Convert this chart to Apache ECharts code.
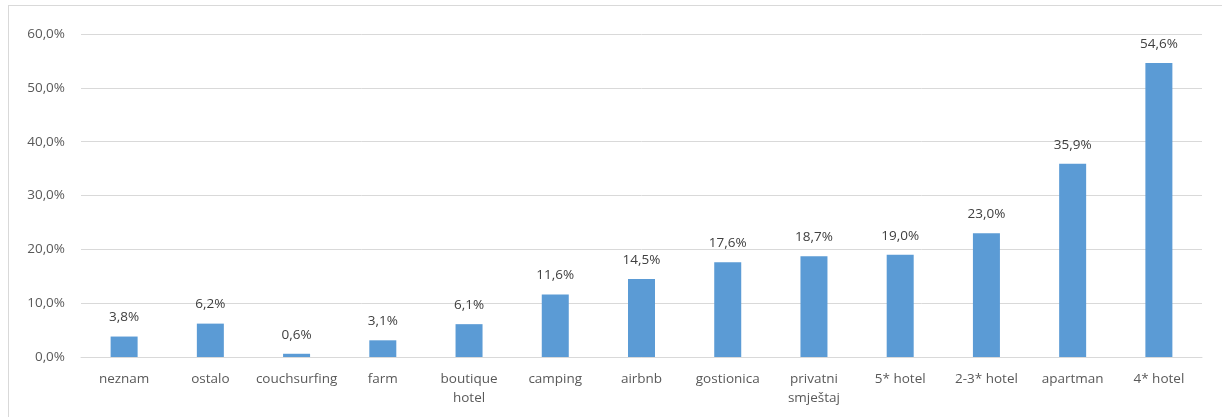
<!DOCTYPE html>
<html>
<head>
<meta charset="utf-8">
<script src="https://cdn.jsdelivr.net/npm/echarts@6/dist/echarts.min.js"></script>
<style>
html,body{margin:0;padding:0;background:#fff;overflow:hidden;}
#frame{position:absolute;left:8px;top:5px;width:1230px;height:430px;border:1px solid #d9d9d9;box-sizing:border-box;}
#chart{position:absolute;left:0;top:0;width:1222px;height:417px;}
</style>
</head>
<body>
<div id="frame"></div>
<div id="chart"></div>
<script>
const categories = ['neznam','ostalo','couchsurfing','farm','boutique\nhotel','camping','airbnb','gostionica','privatni\nsmještaj','5* hotel','2-3* hotel','apartman','4* hotel'];
const values = [3.8, 6.2, 0.6, 3.1, 6.1, 11.6, 14.5, 17.6, 18.7, 19.0, 23.0, 35.9, 54.6];
const yTicks = {min: 0, max: 60, interval: 10};

const fmt = v => v.toFixed(1).replace('.', ',') + '%';
const chart = echarts.init(document.getElementById('chart'), null, {renderer: 'canvas'});
chart.setOption({
  animation: false,
  grid: {left: 81, right: 20, top: 34, bottom: 60, containLabel: false},
  xAxis: {
    type: 'category',
    data: categories,
    axisLine: {lineStyle: {color: '#d9d9d9', width: 1}},
    axisTick: {show: false},
    axisLabel: {color: '#595959', fontSize: 13.5, fontFamily: 'Open Sans', margin: 13, lineHeight: 19, interval: 0}
  },
  yAxis: {
    type: 'value',
    min: yTicks.min, max: yTicks.max, interval: yTicks.interval,
    axisLine: {show: false},
    axisTick: {show: false},
    splitLine: {lineStyle: {color: '#d9d9d9', width: 1}},
    axisLabel: {color: '#595959', fontSize: 13.5, fontFamily: 'Open Sans', margin: 16, formatter: fmt}
  },
  series: [{
    type: 'bar',
    data: values,
    barWidth: 27,
    itemStyle: {color: '#5b9bd5'},
    label: {show: true, position: 'top', distance: 12, color: '#404040', fontSize: 13.5, fontFamily: 'Open Sans', formatter: p => fmt(p.value)}
  }]
});
</script>
</body>
</html>
